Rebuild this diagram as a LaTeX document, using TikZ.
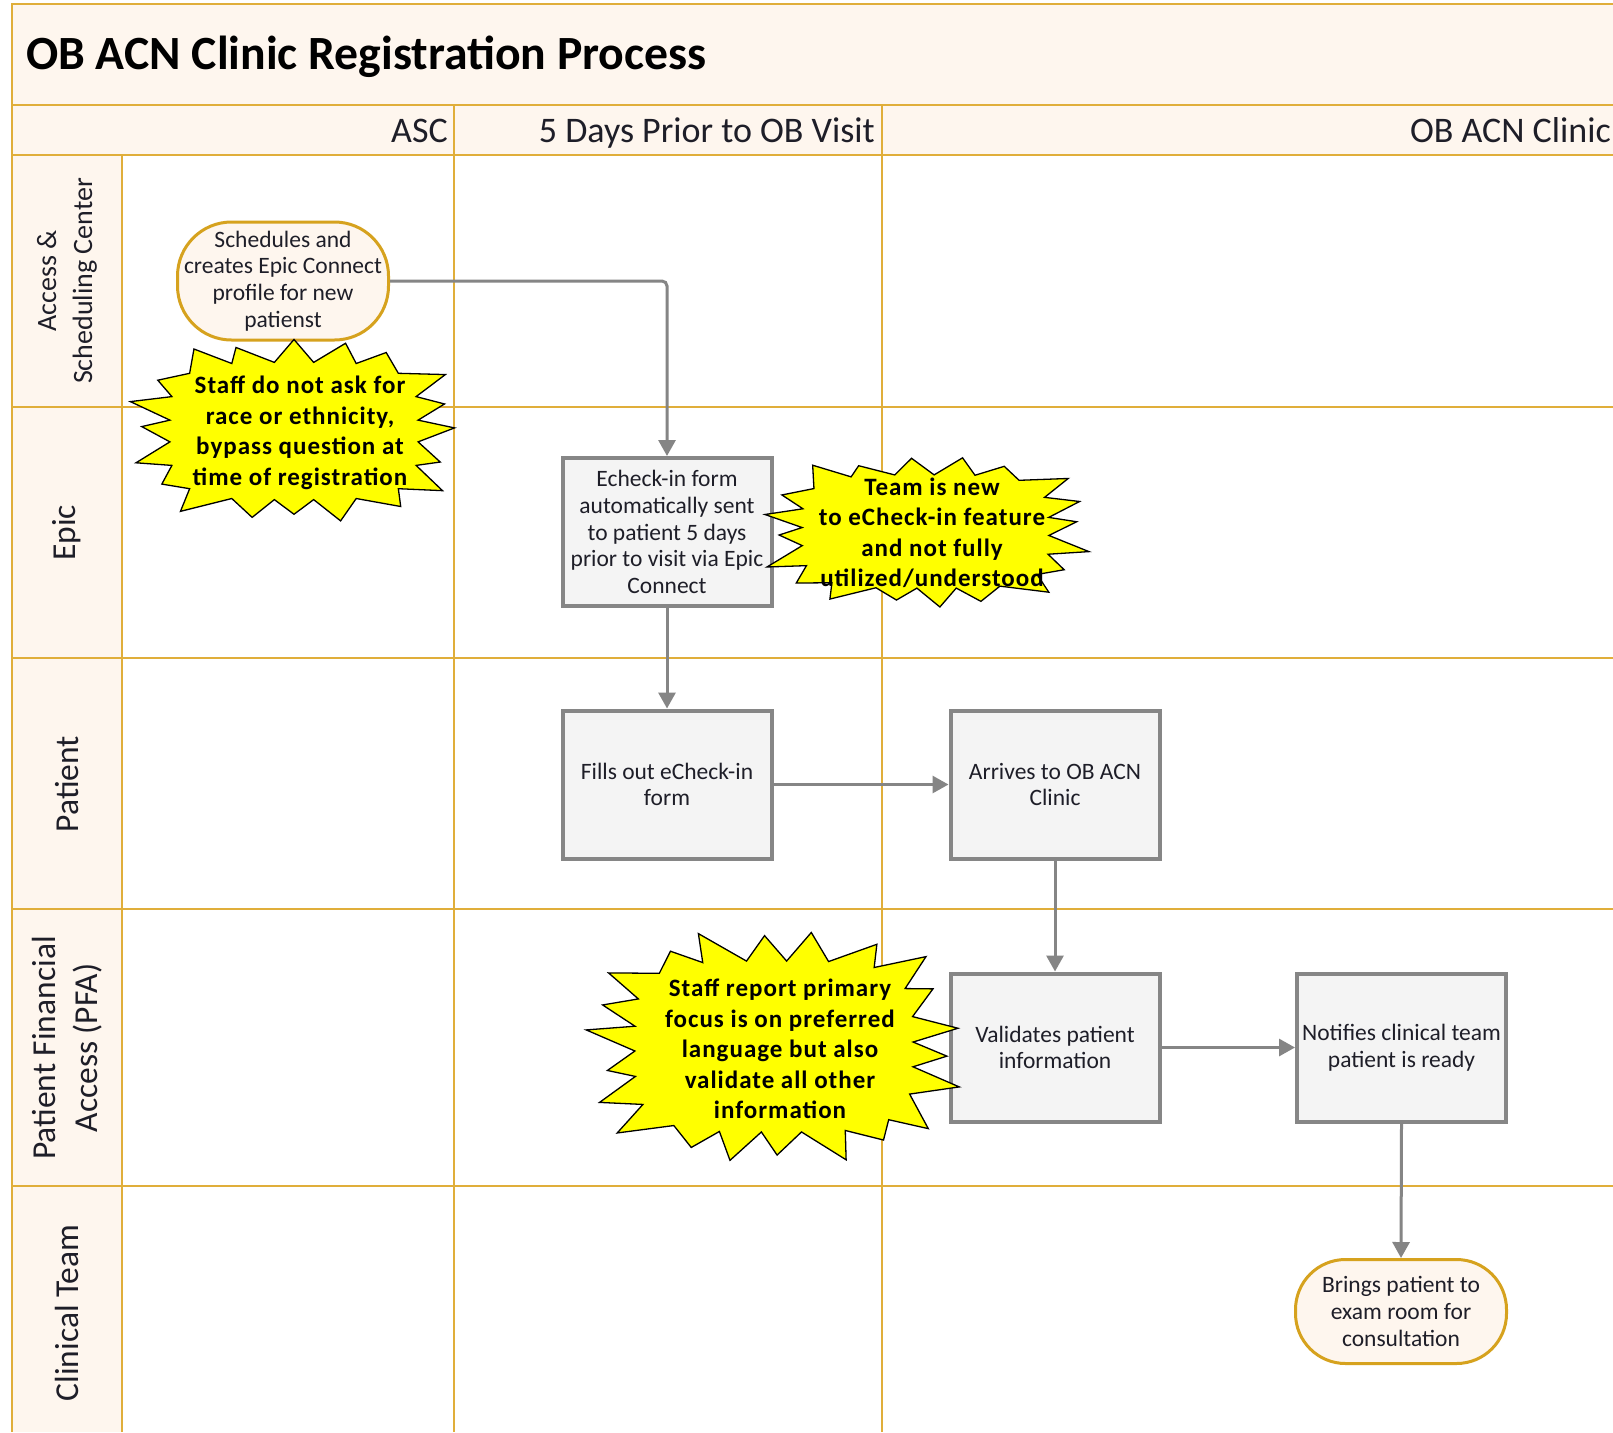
\documentclass[tikz,border=0pt]{standalone}
\usepackage{fontspec}
\setmainfont{Carlito}
\newfontfamily\burstfont[LetterSpace=4]{Carlito}
\usetikzlibrary{arrows.meta}
\definecolor{gold}{HTML}{E0AE3A}
\definecolor{cream}{HTML}{FEF6EE}
\definecolor{boxgray}{HTML}{868686}
\definecolor{boxfill}{HTML}{F4F4F4}
\definecolor{termgold}{HTML}{D6A21E}
\definecolor{conngray}{HTML}{858585}
\definecolor{txt}{HTML}{1E1E28}
\definecolor{burstyellow}{HTML}{FFFF00}
\pgfmathdeclarefunction{sqf}{2}{%
  \begingroup
  \pgfmathparse{pow(pow(abs(cos(#1))+0.0001,#2)+pow(abs(sin(#1))+0.0001,#2),-1/#2)}%
  \pgfmathsmuggle\pgfmathresult
  \endgroup}
\tikzset{
  gridl/.style={draw=gold, line width=2pt},
  lanetxt/.style={font=\fontsize{33.5}{42}\selectfont, text=txt, align=center, rotate=90, inner sep=0pt},
  hdrtxt/.style={font=\fontsize{36}{42}\selectfont, text=txt, anchor=base east, inner sep=0pt},
  proc/.style={draw=boxgray, line width=4pt, fill=boxfill, minimum width=209pt, minimum height=148pt,
    align=center, font=\fontsize{23.5}{26.6}\selectfont, text=txt, inner sep=2pt},
  term/.style={draw=termgold, line width=3pt, fill=cream, minimum width=211pt,
    align=center, font=\fontsize{23.5}{26.6}\selectfont, text=txt, inner sep=2pt},
  conn/.style={draw=conngray, line width=3pt, -{Triangle[length=16pt,width=17pt]}, rounded corners=5pt},
  burstst/.style={draw=black, line width=1.3pt, fill=burstyellow, line join=miter},
  bursttxt/.style={font=\burstfont\bfseries\fontsize{25}{30.5}\selectfont, align=center, text=black, inner sep=0pt}
}
% #1 prefix, #2 centre, #3 points, #4 rx, #5 ry, #6 inner factor, #7 angle offset, #8 list factor/jitter
\newcommand\burstpoly[8]{%
  \begin{scope}[shift={(#2)}]
  \foreach \fa/\da [count=\ia from 0] in {#8} {
    \pgfmathsetmacro\angO{90+#7+\ia*360/#3+\da}
    \pgfmathsetmacro\angI{90+#7+(\ia+0.5)*360/#3}
    \pgfmathsetmacro\rO{\fa*sqf(\angO,3)}
    \pgfmathsetmacro\rI{#6*sqf(\angI,4)}
    \coordinate (#1o\ia) at (\angO:{\rO*#4pt} and {\rO*#5pt});
    \coordinate (#1i\ia) at (\angI:{\rI*#4pt} and {\rI*#5pt});
  }
  \pgfmathtruncatemacro\lastidx{#3-1}
  \draw[burstst] (#1i\lastidx) \foreach \ia in {0,...,\lastidx} { -- (#1o\ia) -- (#1i\ia) } -- cycle;
  \end{scope}}
\begin{document}
\begin{tikzpicture}[x=1pt,y=-1pt]
\useasboundingbox (0,0) rectangle (1613,1432);
\clip (0,0) rectangle (1613,1432);
\fill[white] (0,0) rectangle (1613,1432);
% bands
\fill[cream] (12,4) rectangle (1613,155);
\fill[cream] (12,155) rectangle (122,1432);
% grid
\draw[gridl] (1613,4) -- (12,4) -- (12,1432);
\draw[gridl] (12,105) -- (1613,105);
\draw[gridl] (12,155) -- (1613,155);
\foreach \yy in {407,658,909,1186} \draw[gridl] (12,\yy) -- (1613,\yy);
\draw[gridl] (122,155) -- (122,1432);
\draw[gridl] (454,105) -- (454,1432);
\draw[gridl] (882,105) -- (882,1432);
% title and headers
\node[anchor=base west, font=\bfseries\fontsize{47.7}{56}\selectfont, text=black, inner sep=0pt] (title) at (26,69) {OB ACN Clinic Registration Process};
\node[hdrtxt] (hasc) at (448,142) {ASC};
\node[hdrtxt] (hfive) at (875,142) {5 Days Prior to OB Visit};
\node[hdrtxt] (hclinic) at (1611,142) {OB ACN Clinic};
% lane labels
\node[lanetxt, font=\fontsize{28}{36}\selectfont] (lasc) at (67,281) {Access \&\\Scheduling Center};
\node[lanetxt] (lepic) at (67,533) {Epic};
\node[lanetxt] (lpat) at (67,784) {Patient};
\node[lanetxt] (lpfa) at (67,1048) {Patient Financial\\Access (PFA)};
\node[lanetxt] (lclin) at (67,1313) {Clinical Team};
% process nodes
\node[term, minimum height=118pt, rounded corners=54pt] (s1) at (283,281) {Schedules and\\creates Epic Connect\\profile for new\\patienst};
\node[proc] (echeck) at (667,532) {Echeck-in form\\automatically sent\\to patient 5 days\\prior to visit via Epic\\Connect};
\node[proc] (fills) at (667,784.5) {Fills out eCheck-in\\form};
\node[proc] (arrive) at (1055,784.5) {Arrives to OB ACN\\Clinic};
\node[proc] (valid) at (1055,1047.5) {Validates patient\\information};
\node[proc] (notify) at (1401.5,1047.5) {Notifies clinical team\\patient is ready};
\node[term, minimum height=104pt, rounded corners=50pt] (s2) at (1401,1311.5) {Brings patient to\\exam room for\\consultation};
% connectors
\draw[conn] (s1.east) -| (echeck.north);
\draw[conn] (echeck.south) -- (fills.north);
\draw[conn] (fills.east) -- (arrive.west);
\draw[conn] (arrive.south) -- (valid.north);
\draw[conn] (valid.east) -- (notify.west);
\draw[conn] (notify.south) -- (s2.north);
% bursts
\coordinate (b1c) at (294,431);
\coordinate (b2c) at (925.5,531.5);
\coordinate (b3c) at (774,1046.5);
\burstpoly{ba}{b1c}{20}{165.5}{91.5}{0.75}{0}{1.0/0,0.93/3,0.98/-2,0.9/2,1.0/0,0.92/-3,0.97/2,0.89/0,1.0/-2,0.95/3,0.91/0,0.99/-2,0.94/2,1.0/0,0.9/-3,0.97/2,0.92/0,1.0/-2,0.93/3,0.97/0}
\burstpoly{bb}{b2c}{20}{164.5}{75.5}{0.75}{5}{0.97/0,0.9/2,1.0/-3,0.92/2,0.98/0,0.89/-2,1.0/3,0.93/0,0.97/-2,0.91/2,1.0/0,0.94/-3,0.98/2,0.9/0,1.0/-2,0.92/3,0.96/0,1.0/-2,0.91/2,0.98/0}
\burstpoly{bc}{b3c}{22}{188}{115.5}{0.74}{3}{0.96/0,1.0/3,0.9/-2,0.98/2,0.93/0,1.0/-3,0.89/2,0.97/0,1.0/-2,0.91/3,0.99/0,0.94/-2,1.0/2,0.9/0,0.97/-3,1.0/2,0.92/0,0.98/-2,0.9/3,1.0/0,0.95/-2,0.99/2}
\node[bursttxt] (b1) at (300,433) {Staff do not ask for\\race or ethnicity,\\bypass question at\\time of registration};
\node[bursttxt] (b2) at (932,533) {Team is new\\to eCheck-in feature\\and not fully\\utilized/understood};
\node[bursttxt] (b3) at (780,1049) {Staff report primary\\focus is on preferred\\language but also\\validate all other\\information};
\end{tikzpicture}
\end{document}
